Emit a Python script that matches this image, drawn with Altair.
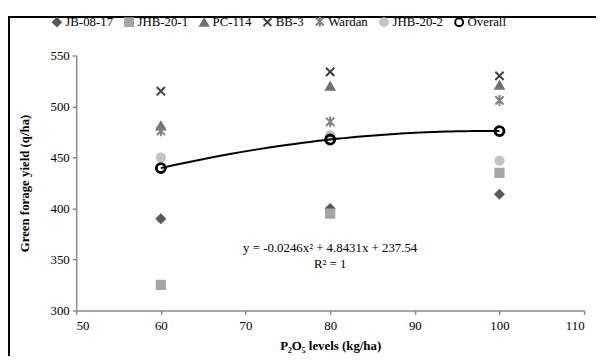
import altair as alt
import pandas as pd

# ---- data ----
levels = [60, 80, 100]
series_names = ["JB-08-17", "JHB-20-1", "PC-114", "BB-3", "Wardan", "JHB-20-2", "Overall"]
jb_08_17 = [390, 400, 414]
jhb_20_1 = [325, 395, 435]
pc_114 = [481, 520, 521]
bb_3 = [515, 534, 530]
wardan = [476, 485, 506]
jhb_20_2 = [450, 472, 447]
overall = [439.6, 467.6, 475.9]

eq_x = [80, 80]
eq_y = [361, 346]
eq_text = ["y = -0.0246x\u00b2 + 4.8431x + 237.54", "R\u00b2 = 1"]

x_ticks = [50, 60, 70, 80, 90, 100, 110]
y_ticks = [300, 350, 400, 450, 500, 550]

# ---- styles ----
shapes = ["diamond", "square", "triangle-up",
          "M-1,-1L1,1M-1,1L1,-1",
          "M-1,-1L1,1M-1,1L1,-1M0,-1.3L0,1.3",
          "circle", "circle"]
fills = ["#595959", "#a5a5a5", "#707070", "#404040", "#808080", "#c4c4c4", "transparent"]
strokes = ["#595959", "#a5a5a5", "#707070", "#404040", "#808080", "#c4c4c4", "#000000"]

all_vals = [jb_08_17, jhb_20_1, pc_114, bb_3, wardan, jhb_20_2, overall]
rows = []
for name, vals in zip(series_names, all_vals):
    for lv, v in zip(levels, vals):
        rows.append({"level": lv, "yield": v, "series": name})
df = pd.DataFrame(rows)
df_overall = pd.DataFrame({"level": levels, "yield": overall})
df_eq = pd.DataFrame({"x": eq_x, "y": eq_y, "t": eq_text})

W, H = 514, 258
FONT = "Liberation Serif"

xs = alt.Scale(domain=[50, 110], nice=False, zero=False)
ys = alt.Scale(domain=[300, 550], nice=False, zero=False)

legend = alt.Legend(title=None, orient="none", legendX=-26, legendY=-41,
                    direction="horizontal", columns=7, columnPadding=7,
                    labelFont=FONT, labelFontSize=13, labelColor="#000",
                    labelOffset=2, symbolSize=64, symbolStrokeWidth=2)

points = alt.Chart(df).mark_point(filled=True, size=70, strokeWidth=2, opacity=1).encode(
    x=alt.X("level:Q", scale=xs,
            axis=alt.Axis(values=x_ticks, title="P\u2082O\u2085 levels (kg/ha)",
                          titlePadding=8, labelPadding=5)),
    y=alt.Y("yield:Q", scale=ys,
            axis=alt.Axis(values=y_ticks, title="Green forage yield (q/ha)", titlePadding=19)),
    shape=alt.Shape("series:N", scale=alt.Scale(domain=series_names, range=shapes), legend=legend),
    fill=alt.Fill("series:N", scale=alt.Scale(domain=series_names, range=fills), legend=legend),
    stroke=alt.Stroke("series:N", scale=alt.Scale(domain=series_names, range=strokes), legend=legend),
    order=alt.Order("ord:Q"),
).transform_calculate(ord="datum.series == 'Overall' ? 1 : 0")

trend = alt.Chart(df_overall).transform_regression(
    "level", "yield", method="poly", order=2, extent=[60, 100]
).mark_line(color="#000", strokeWidth=2).encode(
    x=alt.X("level:Q", scale=xs),
    y=alt.Y("yield:Q", scale=ys),
)

overall_pts = alt.Chart(df_overall).mark_point(
    shape="circle", size=90, filled=False, stroke="#000", strokeWidth=2.5, opacity=1
).encode(x=alt.X("level:Q", scale=xs), y=alt.Y("yield:Q", scale=ys))

eq = alt.Chart(df_eq).mark_text(font=FONT, fontSize=13, color="#000").encode(
    x=alt.X("x:Q", scale=xs), y=alt.Y("y:Q", scale=ys), text="t:N"
)

one = alt.Data(values=[{"a": 1}])
frame_top = alt.Chart(one).mark_rule(color="#000", strokeWidth=2, clip=False).encode(
    x=alt.value(-69), x2=alt.value(W + 60), y=alt.value(-39))
frame_left = alt.Chart(one).mark_rule(color="#000", strokeWidth=2, clip=False).encode(
    x=alt.value(-68), y=alt.value(-40), y2=alt.value(H + 60))

chart = alt.layer(frame_top, frame_left, points, trend, overall_pts, eq).properties(
    width=W, height=H,
    autosize=alt.AutoSizeParams(type="none"),
    padding={"left": 69, "top": 46, "right": 12, "bottom": 44},
).configure_view(stroke=None).configure_axis(
    grid=False, domainColor="#8a8a8a", domainWidth=1.5, tickColor="#8a8a8a", tickWidth=1.5,
    tickSize=4, labelFont=FONT, labelFontSize=13, labelColor="#000", labelPadding=3,
    titleFont=FONT, titleFontSize=13, titleFontWeight="bold", titleColor="#000",
)

chart.save("out.html", embed_options={"renderer": "svg", "actions": False})
